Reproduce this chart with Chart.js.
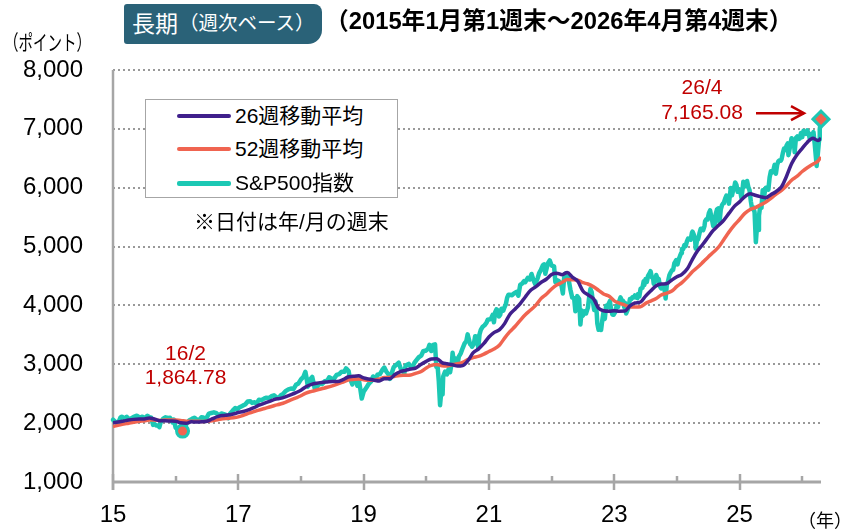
<!DOCTYPE html>
<html><head><meta charset="utf-8">
<script src="https://cdn.jsdelivr.net/npm/chart.js@4.4.1/dist/chart.umd.min.js"></script>
<style>
body{margin:0;background:#fff;}
#wrap{position:relative;width:841px;height:529px;overflow:hidden;background:#fff;}
canvas{position:absolute;left:0;top:0;}
.t{position:absolute;white-space:nowrap;font-family:"Liberation Sans","Noto Sans CJK JP",sans-serif;color:#000;line-height:1;}
#unit{left:4px;top:32px;font-size:21px;transform:scaleX(0.69);transform-origin:0 0;}
#badge{left:124px;top:4px;width:198px;height:40px;background:#2a6278;border-radius:3px 8px 14px 3px;color:#fff;display:flex;align-items:center;padding-left:8px;box-sizing:border-box;}
#badge .b1{font-size:23px;}
#badge .b2{font-size:19.5px;margin-left:1px;}
#title{left:325px;top:9px;font-size:24px;font-weight:bold;transform:scaleX(0.99);transform-origin:0 0;}
#legend{left:145px;top:99px;width:253px;height:99px;border:1.5px solid #a6a6a6;box-sizing:border-box;background:#fff;}
.row{position:absolute;left:0;height:30px;width:250px;}
.sw{position:absolute;left:31px;width:54px;border-radius:2px;}
.lt{position:absolute;left:89px;top:4px;font-size:21px;}
#note{left:194px;top:211px;font-size:21px;}
#yr{left:798px;top:512px;font-size:18px;}
</style></head>
<body>
<div id="wrap">
<canvas id="c" width="841" height="529"></canvas>
<div class="t" id="unit">（ポイント）</div>
<div class="t" id="badge"><span class="b1">長期</span><span class="b2">（週次ベース）</span></div>
<div class="t" id="title">（2015年1月第1週末～2026年4月第4週末）</div>
<div class="t" id="legend"></div>
<div class="t" id="note">※日付は年/月の週末</div>
<div class="t" id="yr">（年）</div>
</div>
<script>
// ---------------- DATA ----------------
const seriesNames = ['26週移動平均', '52週移動平均', 'S&P500指数'];
const seriesColors = ['#40208c', '#f06450', '#1cc8b4'];

// S&P500 index, weekly closes: [date (decimal year), value]
const sp500Weekly = [
[2015.00,2058],[2015.04,2019],[2015.08,1995],[2015.12,2097],[2015.14,2110],[2015.19,2079],[2015.22,2108],[2015.25,2068],
[2015.29,2081],[2015.33,2108],[2015.38,2126],[2015.43,2093],[2015.47,2110],[2015.50,2077],[2015.55,2126],[2015.58,2103],
[2015.61,2092],[2015.64,1971],[2015.66,1988],[2015.69,1961],[2015.72,1958],[2015.74,1931],[2015.76,2014],[2015.80,2075],
[2015.84,2099],[2015.88,2089],[2015.91,2091],[2015.95,2012],[2015.97,2061],
[2016.00,1922],[2016.04,1880],[2016.08,1940],[2016.11,1864.78],[2016.15,1948],[2016.18,2000],[2016.22,2050],[2016.26,2072],
[2016.30,2092],[2016.33,2065],[2016.37,2047],[2016.41,2099],[2016.44,2096],[2016.47,2037],[2016.50,2103],[2016.53,2161],
[2016.57,2173],[2016.61,2184],[2016.65,2169],[2016.69,2128],[2016.73,2165],[2016.77,2153],[2016.80,2141],[2016.84,2085],
[2016.87,2164],[2016.91,2213],[2016.95,2258],[2016.98,2239],
[2017.03,2275],[2017.07,2297],[2017.11,2316],[2017.15,2367],[2017.19,2373],[2017.22,2344],[2017.26,2355],[2017.29,2329],
[2017.33,2399],[2017.37,2391],[2017.41,2416],[2017.45,2433],[2017.49,2423],[2017.53,2459],[2017.57,2473],[2017.61,2441],
[2017.64,2426],[2017.68,2477],[2017.72,2502],[2017.76,2549],[2017.80,2575],[2017.84,2588],[2017.88,2579],[2017.92,2652],
[2017.96,2675],
[2018.00,2743],[2018.04,2786],[2018.07,2873],[2018.09,2762],[2018.11,2620],[2018.15,2747],[2018.18,2786],[2018.22,2588],
[2018.25,2604],[2018.28,2656],[2018.30,2670],[2018.34,2663],[2018.38,2712],[2018.42,2721],[2018.45,2780],[2018.49,2755],
[2018.53,2760],[2018.57,2819],[2018.61,2833],[2018.65,2875],[2018.69,2872],[2018.72,2930],[2018.76,2886],[2018.78,2768],
[2018.82,2659],[2018.85,2781],[2018.88,2736],[2018.90,2633],[2018.92,2760],[2018.94,2633],[2018.97,2417],
[2019.00,2532],[2019.04,2596],[2019.08,2665],[2019.12,2708],[2019.15,2793],[2019.19,2743],[2019.22,2822],[2019.26,2834],
[2019.30,2907],[2019.33,2945],[2019.36,2881],[2019.40,2826],[2019.42,2752],[2019.46,2886],[2019.48,2950],[2019.52,2990],
[2019.56,3026],[2019.59,2932],[2019.62,2889],[2019.65,2847],[2019.67,2978],[2019.72,3007],[2019.75,2961],[2019.78,2952],
[2019.81,3023],[2019.84,3067],[2019.88,3120],[2019.92,3146],[2019.95,3221],
[2020.00,3235],[2020.03,3265],[2020.05,3330],[2020.08,3226],[2020.11,3328],[2020.14,3338],[2020.16,2954],[2020.18,2972],
[2020.20,2711],[2020.22,2305],[2020.24,2541],[2020.26,2489],[2020.27,2790],[2020.30,2875],[2020.33,2830],[2020.36,2930],
[2020.38,2864],[2020.41,3044],[2020.42,3194],[2020.44,3041],[2020.47,3098],[2020.50,3009],[2020.52,3130],[2020.55,3185],
[2020.58,3271],[2020.61,3351],[2020.64,3397],[2020.66,3508],[2020.70,3341],[2020.72,3319],[2020.73,3298],[2020.76,3348],
[2020.78,3477],[2020.81,3465],[2020.83,3270],[2020.85,3510],[2020.87,3585],[2020.90,3638],[2020.93,3663],[2020.96,3703],
[2020.98,3756],
[2021.03,3768],[2021.06,3841],[2021.08,3714],[2021.10,3887],[2021.12,3934],[2021.15,3907],[2021.16,3811],[2021.18,3842],
[2021.20,3943],[2021.23,3914],[2021.25,3974],[2021.27,4020],[2021.29,4128],[2021.31,4180],[2021.33,4181],[2021.37,4173],
[2021.40,4204],[2021.44,4230],[2021.47,4166],[2021.50,4352],[2021.53,4370],[2021.56,4411],[2021.58,4395],[2021.62,4468],
[2021.65,4441],[2021.68,4535],[2021.71,4433],[2021.74,4357],[2021.78,4471],[2021.80,4545],[2021.83,4605],[2021.86,4682],
[2021.88,4698],[2021.90,4538],[2021.94,4713],[2021.97,4766],
[2022.00,4677],[2022.04,4663],[2022.06,4398],[2022.08,4432],[2022.11,4419],[2022.14,4385],[2022.16,4328],[2022.18,4204],
[2022.20,4463],[2022.22,4543],[2022.24,4546],[2022.26,4488],[2022.28,4392],[2022.30,4272],[2022.33,4132],[2022.36,4123],
[2022.38,3901],[2022.41,4158],[2022.44,4109],[2022.46,3675],[2022.48,3912],[2022.50,3825],[2022.53,3899],[2022.55,3863],
[2022.58,3962],[2022.60,4145],[2022.62,4280],[2022.64,4228],[2022.66,4058],[2022.68,3924],[2022.70,4067],[2022.72,3873],
[2022.73,3693],[2022.75,3586],[2022.77,3640],[2022.79,3583],[2022.81,3753],[2022.83,3901],[2022.85,3771],[2022.87,3993],
[2022.89,3965],[2022.91,4026],[2022.93,4072],[2022.95,3934],[2022.97,3845],[2022.99,3840],
[2023.02,3895],[2023.04,3999],[2023.06,3973],[2023.08,4071],[2023.10,4136],[2023.12,4090],[2023.14,4079],[2023.16,3970],
[2023.17,4046],[2023.19,3862],[2023.21,3917],[2023.23,3971],[2023.25,4109],[2023.27,4105],[2023.29,4137],[2023.31,4133],
[2023.33,4169],[2023.35,4136],[2023.37,4124],[2023.38,4192],[2023.40,4151],[2023.42,4282],[2023.45,4299],[2023.47,4410],
[2023.48,4348],[2023.50,4450],[2023.52,4399],[2023.54,4505],[2023.56,4536],[2023.58,4582],[2023.60,4478],[2023.62,4464],
[2023.63,4370],[2023.65,4406],[2023.67,4516],[2023.69,4457],[2023.71,4450],[2023.73,4320],[2023.75,4288],[2023.77,4309],
[2023.79,4328],[2023.81,4224],[2023.82,4117],[2023.84,4358],[2023.86,4415],[2023.88,4514],[2023.90,4559],[2023.92,4595],
[2023.94,4604],[2023.96,4719],[2023.98,4754],[2023.99,4770],
[2024.01,4697],[2024.03,4784],[2024.05,4840],[2024.07,4891],[2024.08,4959],[2024.10,4958],[2024.12,5027],[2024.14,5006],
[2024.16,5089],[2024.18,5137],[2024.20,5124],[2024.22,5117],[2024.24,5234],[2024.25,5254],[2024.27,5204],[2024.29,5123],
[2024.30,4967],[2024.32,5100],[2024.34,5128],[2024.36,5223],[2024.38,5303],[2024.40,5305],[2024.42,5278],[2024.44,5347],
[2024.45,5431],[2024.47,5464],[2024.49,5460],[2024.51,5567],[2024.53,5615],[2024.55,5505],[2024.56,5459],[2024.58,5346],
[2024.60,5344],[2024.62,5554],[2024.64,5634],[2024.66,5648],[2024.68,5408],[2024.70,5627],[2024.72,5703],[2024.74,5738],
[2024.75,5751],[2024.77,5815],[2024.79,5865],[2024.81,5808],[2024.83,5729],[2024.86,5996],[2024.88,5870],[2024.90,5969],
[2024.92,6032],[2024.93,6090],[2024.95,6051],[2024.97,5931],[2024.99,5970],
[2025.01,5942],[2025.03,5827],[2025.05,5997],[2025.06,6101],[2025.08,6041],[2025.10,6026],[2025.12,6115],[2025.14,6013],
[2025.16,5955],[2025.18,5770],[2025.20,5639],[2025.22,5668],[2025.24,5581],[2025.26,5074],[2025.28,5363],[2025.30,5283],
[2025.31,5525],[2025.33,5686],[2025.35,5660],[2025.37,5958],[2025.39,5803],[2025.40,5912],[2025.42,6000],[2025.44,5977],
[2025.46,5968],[2025.48,6173],[2025.50,6280],[2025.52,6260],[2025.54,6297],[2025.56,6389],[2025.58,6238],[2025.60,6389],
[2025.62,6450],[2025.64,6467],[2025.66,6460],[2025.67,6482],[2025.69,6584],[2025.71,6664],[2025.73,6644],[2025.75,6716],
[2025.77,6753],[2025.78,6553],[2025.80,6664],[2025.82,6791],[2025.83,6840],[2025.85,6729],[2025.87,6734],[2025.88,6603],
[2025.90,6849],[2025.92,6870],[2025.94,6827],[2025.96,6834],[2025.98,6930],
[2026.00,6858],[2026.02,6966],[2026.04,6940],[2026.06,6915],[2026.08,6976],[2026.10,6932],[2026.12,6836],[2026.14,6909],
[2026.16,6878],[2026.18,6946],[2026.20,6740],[2026.22,6500],[2026.23,6370],[2026.25,6580],[2026.27,6820],[2026.28,6990],
[2026.30,7165.08]
];

// Moving averages (month ends, decimal year)
const maDates = [
2015.00,2015.08,2015.17,2015.25,2015.33,2015.42,2015.50,2015.58,2015.67,2015.75,2015.83,2015.92,
2016.00,2016.08,2016.17,2016.25,2016.33,2016.42,2016.50,2016.58,2016.67,2016.75,2016.83,2016.92,
2017.00,2017.08,2017.17,2017.25,2017.33,2017.42,2017.50,2017.58,2017.67,2017.75,2017.83,2017.92,
2018.00,2018.08,2018.17,2018.25,2018.33,2018.42,2018.50,2018.58,2018.67,2018.75,2018.83,2018.92,
2019.00,2019.08,2019.17,2019.25,2019.33,2019.42,2019.50,2019.58,2019.67,2019.75,2019.83,2019.92,
2020.00,2020.08,2020.17,2020.25,2020.33,2020.42,2020.50,2020.58,2020.67,2020.75,2020.83,2020.92,
2021.00,2021.08,2021.17,2021.25,2021.33,2021.42,2021.50,2021.58,2021.67,2021.75,2021.83,2021.92,
2022.00,2022.08,2022.17,2022.25,2022.33,2022.42,2022.50,2022.58,2022.67,2022.75,2022.83,2022.92,
2023.00,2023.08,2023.17,2023.25,2023.33,2023.42,2023.50,2023.58,2023.67,2023.75,2023.83,2023.92,
2024.00,2024.08,2024.17,2024.25,2024.33,2024.42,2024.50,2024.58,2024.67,2024.75,2024.83,2024.92,
2025.00,2025.08,2025.17,2025.25,2025.33,2025.42,2025.50,2025.58,2025.67,2025.75,2025.83,2025.92,
2026.00,2026.08,2026.17,2026.25,2026.30
];
const ma26Values = [
2008,2019,2036,2052,2064,2070,2071,2089,2067,2042,2041,2036,
2033,2006,1999,2022,2020,2023,2032,2071,2111,2129,2139,2156,
2180,2197,2229,2262,2305,2340,2371,2403,2421,2447,2479,2518,
2560,2619,2659,2679,2692,2701,2708,2707,2738,2784,2795,2804,
2769,2750,2730,2717,2756,2755,2827,2873,2897,2920,2936,3001,
3049,3090,3095,3029,3008,2992,2970,2978,3069,3198,3258,3354,
3464,3538,3589,3691,3843,3940,4030,4144,4262,4318,4389,4449,
4527,4548,4523,4560,4481,4408,4245,4181,4111,3953,3910,3901,
3911,3902,3904,3991,4041,4058,4159,4245,4334,4364,4368,4433,
4486,4529,4627,4788,4928,5047,5162,5274,5366,5451,5563,5688,
5759,5845,5896,5871,5849,5829,5882,5932,6016,6196,6407,6564,
6670,6770,6840,6801,6840
];
const ma52Values = [
1944,1962,1983,1999,2016,2031,2040,2054,2051,2047,2052,2053,
2052,2047,2033,2032,2031,2030,2033,2039,2055,2076,2080,2090,
2106,2134,2170,2195,2222,2248,2275,2300,2325,2354,2392,2429,
2465,2511,2540,2563,2585,2609,2634,2663,2699,2732,2743,2752,
2738,2728,2734,2750,2775,2779,2798,2811,2813,2819,2846,2878,
2938,2981,2996,2975,2972,2996,3010,3034,3082,3114,3133,3173,
3217,3258,3329,3445,3550,3647,3747,3841,3926,4005,4116,4195,
4279,4346,4393,4439,4435,4429,4386,4364,4317,4257,4195,4155,
4078,4041,4007,3972,3975,3979,4035,4073,4119,4178,4205,4245,
4323,4387,4481,4576,4648,4740,4824,4902,4997,5120,5245,5367,
5460,5560,5631,5661,5706,5758,5820,5889,5956,6033,6128,6196,
6276,6340,6400,6450,6520
];

const yearTicks = [2015,2016,2017,2018,2019,2020,2021,2022,2023,2024,2025,2026];
const yTicks = [1000,2000,3000,4000,5000,6000,7000,8000];
const lowMark = {date: 2016.11, value: 1864.78, label: '16/2'};
const lastMark = {date: 2026.30, value: 7165.08, label: '26/4'};

// ---------------- LEGEND (HTML) ----------------
const lg = document.getElementById('legend');
const rowTops = [1, 34, 68];
const swH = [4, 4, 5];
seriesNames.forEach((n, i) => {
  const r = document.createElement('div');
  r.className = 'row'; r.style.top = rowTops[i] + 'px';
  const s = document.createElement('div');
  s.className = 'sw'; s.style.background = seriesColors[i];
  s.style.height = swH[i] + 'px'; s.style.top = (15 - swH[i] / 2) + 'px';
  const t = document.createElement('div');
  t.className = 'lt'; t.textContent = n;
  r.appendChild(s); r.appendChild(t); lg.appendChild(r);
});

// ---------------- CHART ----------------
const toPts = (d, v) => d.map((x, i) => ({x: x, y: v[i]}));
const spPts = sp500Weekly.map(p => ({x: p[0], y: p[1]}));
const lowIdx = sp500Weekly.findIndex(p => p[1] === lowMark.value);
const lastIdx = sp500Weekly.length - 1;

const fmt = v => v.toLocaleString('en-US');
const fmt2 = v => v.toLocaleString('en-US', {minimumFractionDigits: 2, maximumFractionDigits: 2});

const axesPlugin = {
  id: 'axesPlugin',
  beforeDatasetsDraw(chart) {
    const {ctx, chartArea: a, scales: {x}} = chart;
    ctx.save();
    ctx.strokeStyle = '#a6a6a6';
    ctx.lineWidth = 2.5;
    ctx.beginPath(); ctx.moveTo(a.left, a.top); ctx.lineTo(a.left, a.bottom + 8); ctx.stroke();
    ctx.lineWidth = 3;
    ctx.beginPath(); ctx.moveTo(a.left, a.bottom); ctx.lineTo(a.right, a.bottom); ctx.stroke();
    ctx.lineWidth = 2.5;
    yearTicks.forEach(yv => {
      const px = Math.round(x.getPixelForValue(yv));
      const major = yv % 2 === 1;
      ctx.beginPath();
      ctx.moveTo(px, a.bottom - (major ? 8 : 6));
      ctx.lineTo(px, a.bottom + (major ? 8 : 0));
      ctx.stroke();
    });
    ctx.restore();
  },
  afterDatasetsDraw(chart) {
    const {ctx, scales: {x, y}} = chart;
    ctx.save();
    ctx.fillStyle = '#c00000';
    ctx.strokeStyle = '#c00000';
    ctx.font = '21px "Liberation Sans", Arial, sans-serif';
    ctx.textAlign = 'center';
    ctx.textBaseline = 'middle';
    const lx = x.getPixelForValue(lowMark.date), ly = y.getPixelForValue(lowMark.value);
    ctx.fillText(lowMark.label, lx + 3, ly - 77);
    ctx.fillText(fmt2(lowMark.value), lx + 3, ly - 53);
    const hx = x.getPixelForValue(lastMark.date), hy = y.getPixelForValue(lastMark.value);
    ctx.fillText(lastMark.label, hx - 119, hy - 31);
    ctx.fillText(fmt2(lastMark.value), hx - 119, hy - 6);
    // arrow
    ctx.lineWidth = 2.5;
    const ay = hy - 6, x0 = hx - 65, x1 = hx - 17;
    ctx.beginPath(); ctx.moveTo(x0, ay); ctx.lineTo(x1, ay); ctx.stroke();
    ctx.beginPath(); ctx.moveTo(x1 - 13, ay - 7); ctx.lineTo(x1, ay); ctx.lineTo(x1 - 13, ay + 7); ctx.stroke();
    ctx.restore();
  }
};

new Chart(document.getElementById('c'), {
  type: 'line',
  data: {
    datasets: [
      {label: seriesNames[0], data: toPts(maDates, ma26Values), borderColor: seriesColors[0], borderWidth: 3.5, pointRadius: 0, cubicInterpolationMode: 'monotone'},
      {label: seriesNames[1], data: toPts(maDates, ma52Values), borderColor: seriesColors[1], borderWidth: 3.5, pointRadius: 0, cubicInterpolationMode: 'monotone'},
      {label: seriesNames[2], data: spPts, borderColor: seriesColors[2], borderWidth: 4.5, tension: 0, clip: false,
        borderJoinStyle: 'round', borderCapStyle: 'round',
        pointRadius: c => c.dataIndex === lowIdx ? 6 : (c.dataIndex === lastIdx ? 8 : 0),
        pointStyle: c => c.dataIndex === lastIdx ? 'rectRot' : 'circle',
        pointBackgroundColor: '#f06450', pointBorderColor: '#1cc8b4', pointBorderWidth: 3,
        pointHoverRadius: 0}
    ]
  },
  options: {
    responsive: false,
    animation: false,
    devicePixelRatio: 1,
    layout: {padding: {top: 70, right: 20, left: 0, bottom: 0}},
    plugins: {legend: {display: false}, tooltip: {enabled: false}},
    events: [],
    scales: {
      x: {
        type: 'linear', min: 2015, max: lastMark.date,
        afterBuildTicks: s => { s.ticks = yearTicks.map(v => ({value: v})); },
        afterFit: s => { s.height = 47; },
        grid: {display: false},
        border: {display: false},
        ticks: {
          autoSkip: false, maxRotation: 0, padding: 11,
          color: '#000', font: {family: '"Liberation Sans", Arial, sans-serif', size: 24},
          callback: v => (v % 2 === 1 ? String(v - 2000) : '')
        }
      },
      y: {
        min: 1000, max: 8000,
        afterBuildTicks: s => { s.ticks = yTicks.map(v => ({value: v})); },
        afterFit: s => { s.width = 113; },
        grid: {color: c => (c.tick && c.tick.value === 1000 ? 'rgba(0,0,0,0)' : '#999'), lineWidth: 2, drawTicks: false},
        border: {display: false, dash: [2, 3]},
        ticks: {
          padding: 30, color: '#000',
          font: {family: '"Liberation Sans", Arial, sans-serif', size: 24},
          callback: v => fmt(v)
        }
      }
    }
  },
  plugins: [axesPlugin]
});
</script>
</body></html>
